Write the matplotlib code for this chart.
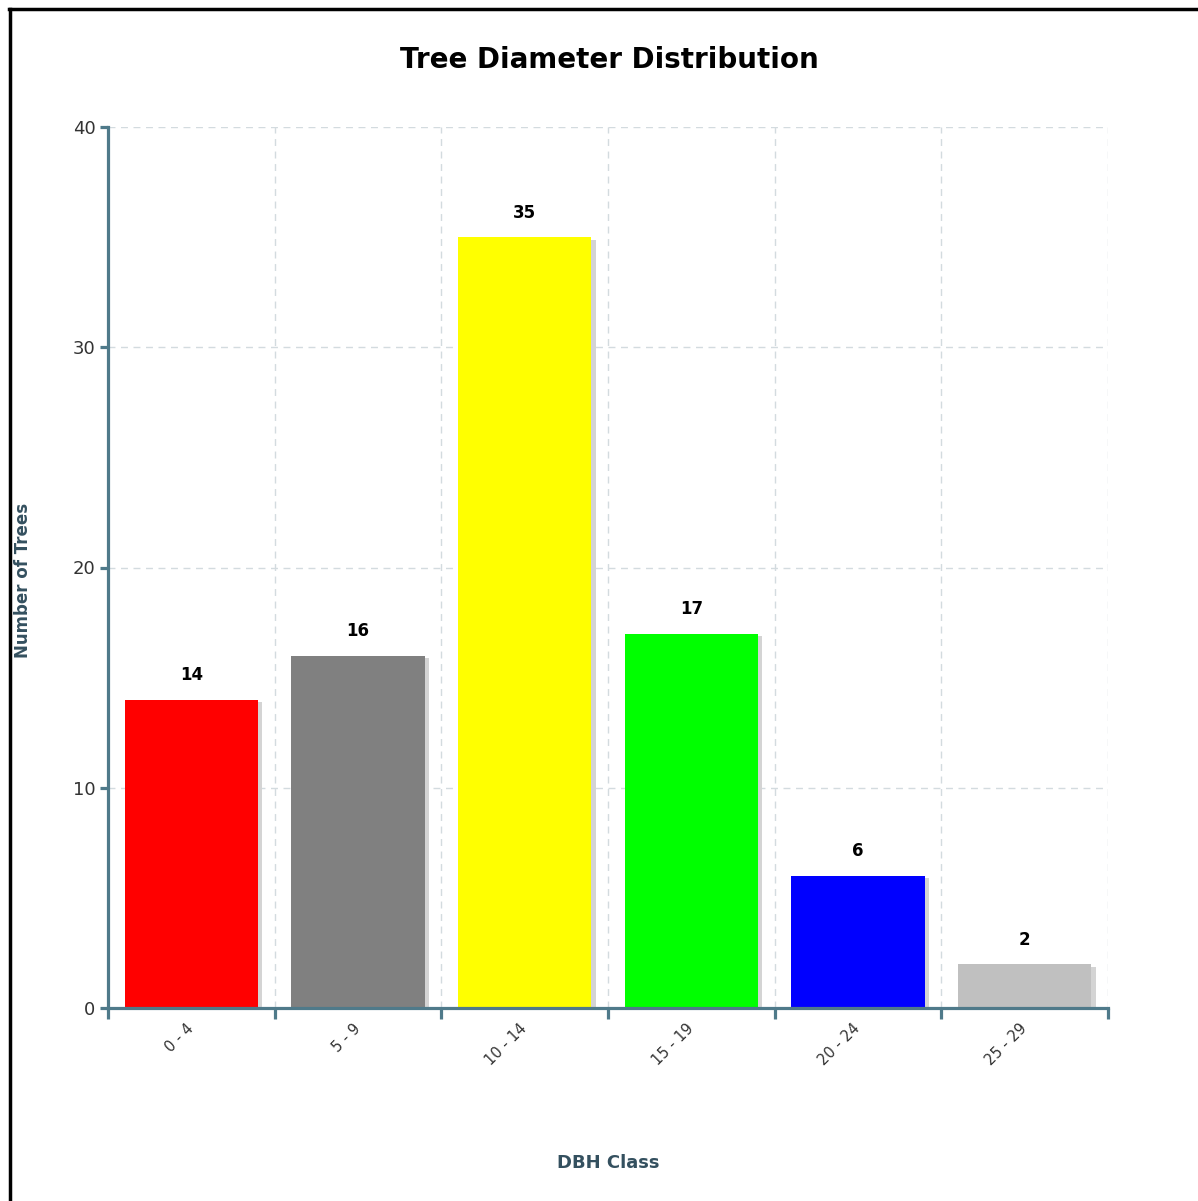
import matplotlib.pyplot as plt
from matplotlib.lines import Line2D
import numpy as np

categories = ["0 - 4", "5 - 9", "10 - 14", "15 - 19", "20 - 24", "25 - 29"]
counts = [14, 16, 35, 17, 6, 2]
bar_colors = ["#ff0000", "#808080", "#ffff00", "#00ff00", "#0000ff", "#c0c0c0"]
y_ticks = [0, 10, 20, 30, 40]

axis_col = "#4f7a8a"
label_col = "#34505f"

fig = plt.figure(figsize=(11.98, 12.01), dpi=100)
ax = fig.add_axes([108 / 1198, 1 - 1008 / 1201, 1000 / 1198, 881 / 1201])

x = np.arange(len(categories)) + 0.5
w = 0.8

# soft shadow behind each bar
ax.bar(x + 0.025, [c - 0.12 for c in counts], width=w, color="#d4d4d4", zorder=2)
ax.bar(x, counts, width=w, color=bar_colors, zorder=3)

for xi, c in zip(x, counts):
    ax.text(xi, c + 0.7, str(c), ha="center", va="bottom",
            fontsize=12, fontweight="bold", color="black", zorder=4)

ax.set_xlim(0, len(categories))
ax.set_ylim(0, 40)

# grid
grid_kw = dict(color="#d3dbdf", linestyle=(0, (5, 4)), linewidth=1, zorder=1)
for yv in y_ticks[1:]:
    ax.axhline(yv, **grid_kw)
for xv in range(1, len(categories) + 1):
    ax.axvline(xv, **grid_kw)

for s in ["top", "right"]:
    ax.spines[s].set_visible(False)
for s in ["left", "bottom"]:
    ax.spines[s].set_color(axis_col)
    ax.spines[s].set_linewidth(2.3)
    ax.spines[s].set_zorder(5)

ax.set_yticks(y_ticks)
ax.tick_params(axis="y", direction="out", length=6, width=2.3, color=axis_col,
               labelsize=13, labelcolor="#333333", pad=3)

ax.set_xticks(range(len(categories) + 1))
ax.set_xticklabels([])
ax.set_xticks(x, minor=True)
ax.set_xticklabels(categories, minor=True, rotation=45, ha="right",
                   va="center", rotation_mode="anchor")
ax.tick_params(axis="x", which="major", direction="out", length=8, width=2.3,
               color=axis_col)
ax.tick_params(axis="x", which="minor", length=0, pad=13, labelsize=10.5,
               labelcolor="#333333")

fig.text(609 / 1198, 1 - 60 / 1201, "Tree Diameter Distribution", ha="center",
         va="center", fontsize=20, fontweight="bold", color="black")
fig.text(608 / 1198, 1 - 1163 / 1201, "DBH Class", ha="center", va="center",
         fontsize=13, fontweight="bold", color=label_col)
fig.text(23 / 1198, 1 - 580 / 1201, "Number of Trees", ha="center", va="center",
         rotation=90, fontsize=12, fontweight="bold", color=label_col)

# frame on left and top
fig.add_artist(Line2D([10 / 1198, 10 / 1198], [0, 1 - 9 / 1201],
                      color="black", linewidth=2.5, transform=fig.transFigure))
fig.add_artist(Line2D([9 / 1198, 1], [1 - 9 / 1201, 1 - 9 / 1201],
                      color="black", linewidth=2.5, transform=fig.transFigure))

fig.savefig("out.png", dpi=100)
